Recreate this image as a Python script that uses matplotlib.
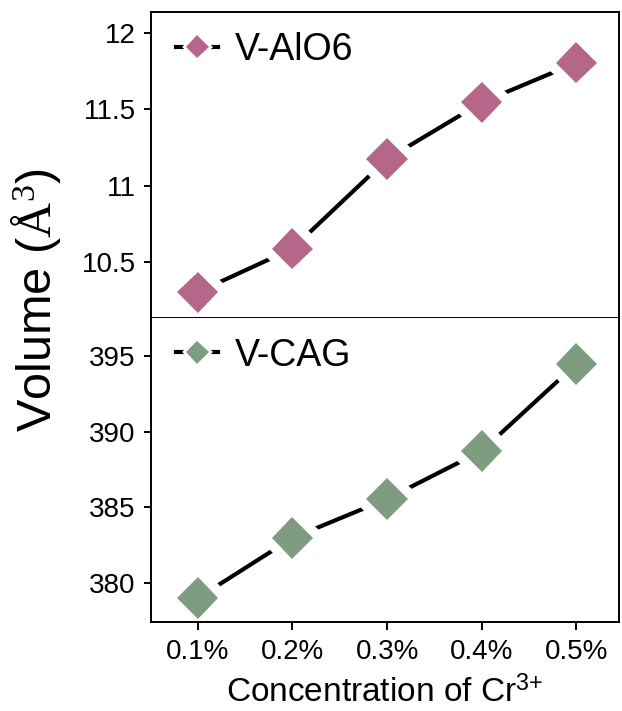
import matplotlib
matplotlib.use("Agg")
import matplotlib.pyplot as plt
import matplotlib.patheffects as pe
from matplotlib.lines import Line2D

plt.rcParams["font.family"] = ["Liberation Sans", "DejaVu Sans"]
plt.rcParams["mathtext.fontset"] = "custom"
plt.rcParams["mathtext.rm"] = "Liberation Serif"
plt.rcParams["mathtext.it"] = "Liberation Serif:italic"
plt.rcParams["mathtext.sf"] = "Liberation Sans"

# Data
concentrations = ["0.1%", "0.2%", "0.3%", "0.4%", "0.5%"]
vol_alo6 = [10.305, 10.59, 11.175, 11.545, 11.805]
vol_cag = [379.0, 382.97, 385.55, 388.72, 394.47]
yticks_alo6 = [10.5, 11, 11.5, 12]
yticks_cag = [380, 385, 390, 395]
ytick_labels_alo6 = ["10.5", "11", "11.5", "12"]
ytick_labels_cag = ["380", "385", "390", "395"]

color_alo6 = "#b5678a"
color_cag = "#7d9c80"

fig = plt.figure(figsize=(6.22, 7.11), dpi=100)
left, right = 0.2428, 0.995
ax_top = fig.add_axes([left, 0.5527, right - left, 0.983 - 0.5527])
ax_bot = fig.add_axes([left, 0.1252, right - left, 0.5527 - 0.1252])

x = list(range(1, len(concentrations) + 1))
halo = [pe.withStroke(linewidth=14, foreground="white")]


def draw_panel(ax, values, color, label, yticks, ylabels, ylim):
    ax.plot(x, values, color="black", lw=3, marker="D", ms=21,
            markerfacecolor=color, markeredgecolor=color, markeredgewidth=0,
            path_effects=halo, solid_capstyle="butt", zorder=2)
    handle = Line2D([0], [0], color="black", lw=3, marker="D", ms=12,
                    markerfacecolor=color, markeredgewidth=0,
                    path_effects=[pe.withStroke(linewidth=4, foreground="white")])
    ax.legend([handle], [label], loc="upper left", frameon=False,
              fontsize=27, handlelength=1.12, handletextpad=0.45,
              borderaxespad=0.0, bbox_to_anchor=(0.022, 0.985))
    ax.set_xlim(0.505, 5.45)
    ax.set_ylim(*ylim)
    ax.set_yticks(yticks)
    ax.set_yticklabels(ylabels)
    for s in ax.spines.values():
        s.set_linewidth(1.4)
        s.set_zorder(4)
    ax.tick_params(axis="y", direction="out", length=5, width=1.4,
                   labelsize=20, pad=6)


draw_panel(ax_top, vol_alo6, color_alo6, "V-AlO6", yticks_alo6,
           ytick_labels_alo6, (10.136, 12.136))
draw_panel(ax_bot, vol_cag, color_cag, "V-CAG", yticks_cag,
           ytick_labels_cag, (377.42, 397.5))

ax_top.set_xticks([])
ax_bot.set_xticks(x)
ax_bot.set_xticklabels(concentrations)
ax_bot.tick_params(axis="x", direction="out", length=6, width=1.4,
                   labelsize=20, pad=6)
ax_bot.spines["top"].set_visible(False)

ax_bot.set_xlabel(r"Concentration of Cr$^{\mathsf{3{+}}}$", fontsize=24,
                  labelpad=8)
fig.text(0.058, 0.578, r"Volume ($\mathrm{\AA}^{3}$)", rotation=90,
         fontsize=35, ha="center", va="center")

fig.savefig("out.png", dpi=100)
